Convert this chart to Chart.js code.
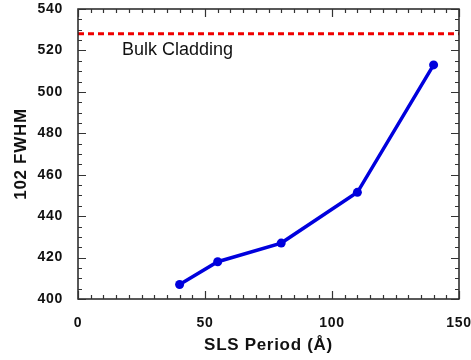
<!DOCTYPE html>
<html><head><meta charset="utf-8">
<script src="https://cdn.jsdelivr.net/npm/chart.js@4/dist/chart.umd.min.js"></script>
<style>html,body{margin:0;padding:0;background:#fff}#w{width:471px;height:360px}</style>
</head><body><div id="w"><canvas id="c" width="471" height="360"></canvas></div>
<script>
const periods = [40, 55, 80, 110, 140];
const fwhm = [407, 418, 427, 451.5, 513];
const bulkLevel = 528;
const bulkLabel = "Bulk Cladding";
const xTicks = [0, 50, 100, 150];
const yTicks = [400, 420, 440, 460, 480, 500, 520, 540];
const xTitle = "SLS Period (Å)";
const yTitle = "102 FWHM";

const frame = {
  id: 'frame',
  beforeDraw(chart) {
    chart.ctx.letterSpacing = '0.7px';
  },
  afterDraw(chart) {
    const {ctx, chartArea: a, scales: {x, y}} = chart;
    ctx.save();
    ctx.strokeStyle = '#222';
    ctx.lineWidth = 1.5;
    ctx.strokeRect(a.left, a.top, a.right - a.left, a.bottom - a.top);
    ctx.lineWidth = 1.2;
    ctx.strokeStyle = '#333';
    ctx.beginPath();
    for (let v = x.min; v <= x.max + 0.001; v += 5) {
      const px = Math.round(x.getPixelForValue(v)) + 0.5;
      const len = (v % 50 === 0) ? 8 : 4;
      ctx.moveTo(px, a.bottom); ctx.lineTo(px, a.bottom - len);
      ctx.moveTo(px, a.top); ctx.lineTo(px, a.top + len);
    }
    for (let v = y.min; v <= y.max + 0.001; v += 5) {
      const py = Math.round(y.getPixelForValue(v)) + 0.5;
      const len = (v % 20 === 0) ? 8 : 4;
      ctx.moveTo(a.left, py); ctx.lineTo(a.left + len, py);
      ctx.moveTo(a.right, py); ctx.lineTo(a.right - len, py);
    }
    ctx.stroke();
    ctx.letterSpacing = '0px';
    ctx.fillStyle = '#111';
    ctx.font = '18px "Liberation Sans", Arial, sans-serif';
    ctx.textBaseline = 'middle';
    ctx.fillText(bulkLabel, x.getPixelForValue(17.3), y.getPixelForValue(bulkLevel) + 16);
    ctx.restore();
  }
};

const zeroPad = s => { s.paddingTop = 0; s.paddingBottom = 0; s.paddingLeft = 0; s.paddingRight = 0; };

new Chart(document.getElementById('c'), {
  type: 'scatter',
  data: {
    datasets: [
      {
        data: [{x: 0, y: bulkLevel}, {x: 150, y: bulkLevel}],
        showLine: true, borderColor: '#ee0000', borderWidth: 3,
        borderDash: [6, 4], pointRadius: 0
      },
      {
        data: periods.map((p, i) => ({x: p, y: fwhm[i]})),
        showLine: true, borderColor: '#0000dd', backgroundColor: '#0000dd',
        borderWidth: 3.5, pointRadius: 4.5, pointBorderWidth: 0
      }
    ]
  },
  options: {
    responsive: false, animation: false,
    layout: {padding: {left: 0, right: 12, top: 9, bottom: 0}},
    plugins: {legend: {display: false}, tooltip: {enabled: false}},
    scales: {
      x: {
        type: 'linear', min: 0, max: 150,
        afterBuildTicks: s => { s.ticks = xTicks.map(v => ({value: v})); },
        afterFit: s => { s.height = 61; zeroPad(s); },
        grid: {display: false, drawTicks: false},
        border: {display: false},
        ticks: {color: '#111', padding: 16, font: {family: '"Liberation Sans", Arial', size: 14, weight: 'bold'}},
        title: {display: true, text: xTitle, color: '#111', padding: {top: 0, bottom: 4},
          font: {family: '"Liberation Sans", Arial', size: 17, weight: 'bold'}}
      },
      y: {
        type: 'linear', min: 400, max: 540,
        afterBuildTicks: s => { s.ticks = yTicks.map(v => ({value: v})); },
        afterFit: s => { s.width = 78; zeroPad(s); },
        grid: {display: false, drawTicks: false},
        border: {display: false},
        ticks: {color: '#111', padding: 15, font: {family: '"Liberation Sans", Arial', size: 14, weight: 'bold'}},
        title: {display: true, text: yTitle, color: '#111', padding: {top: 11, bottom: 0},
          font: {family: '"Liberation Sans", Arial', size: 17, weight: 'bold'}}
      }
    }
  },
  plugins: [frame]
});
</script></body></html>
